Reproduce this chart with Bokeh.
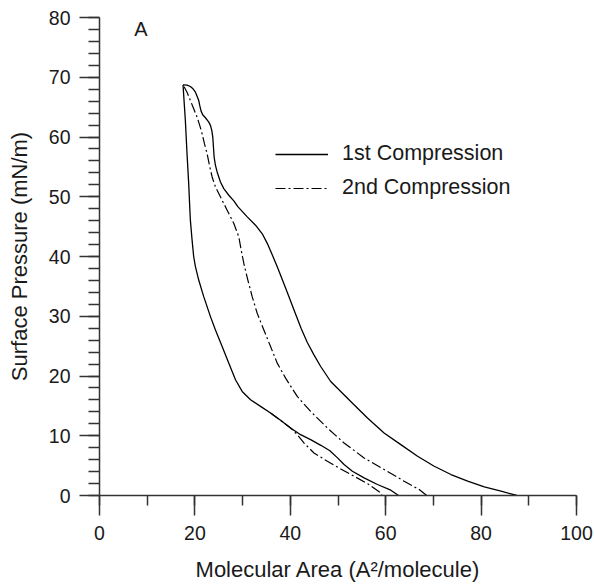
from bokeh.plotting import figure
from bokeh.models import Range1d, SingleIntervalTicker, Legend, LegendItem
from bokeh.core.properties import value
from bokeh.embed import file_html
from bokeh.resources import INLINE

# 1st compression (from large area up to collapse)
comp1_x = [87.5, 84.18, 80.67, 77.18, 73.68, 70.17, 66.68, 63.17, 59.66, 56.18, 53.36, 50.57, 48.47,
           46.37, 44.96, 43.57, 42.3, 41.0, 39.7, 38.4, 37.2, 36.1, 35.17, 34.12, 32.71, 30.97,
           29.0, 28.16, 27.11, 26.06, 25.36, 24.66, 24.31, 24.03, 23.89, 23.75, 23.54, 23.26, 22.91,
           22.21, 21.64, 21.30, 21.01, 20.80, 20.46, 20.11, 19.61, 19.05, 18.35, 17.51]
comp1_y = [0.0, 0.72, 1.45, 2.39, 3.51, 4.89, 6.56, 8.51, 10.47, 12.97, 15.19, 17.41, 19.08,
           21.59, 23.54, 25.6, 27.9, 30.6, 33.3, 36.0, 38.4, 40.5, 42.2, 43.8, 45.24, 46.63,
           48.35, 49.30, 50.25, 51.36, 52.48, 54.15, 55.26, 56.65, 58.32, 59.99, 61.10, 61.94, 62.49,
           63.22, 63.72, 64.33, 65.28, 66.11, 66.83, 67.50, 68.06, 68.45, 68.67, 68.73]
# 1st expansion (from collapse back down)
exp1_x = [17.51, 18.00, 18.35, 18.70, 18.9, 19.05, 19.41, 19.75, 20.11, 20.80, 21.85, 23.26, 24.31,
          25.71, 27.11, 28.51, 29.91, 31.66, 33.76, 35.86, 37.96, 40.06, 42.16, 44.26, 46.4, 48.3,
          49.9, 51.27, 53.02, 55.47, 58.27, 61.07, 62.7]
exp1_y = [68.73, 62.77, 57.21, 52.20, 48.6, 46.08, 42.74, 39.96, 38.29, 36.06, 33.28, 29.94, 27.71,
          24.93, 22.15, 19.37, 17.42, 16.03, 14.91, 13.80, 12.58, 11.30, 10.18, 9.35, 8.4, 7.5,
          6.3, 5.18, 4.06, 2.95, 1.84, 0.89, 0.0]
# 2nd compression
comp2_x = [68.6, 67.02, 63.87, 59.67, 55.47, 51.27, 47.77, 44.26, 41.46, 39.01, 37.26, 35.86, 34.46,
           33.06, 32.01, 31.10, 30.26, 29.70, 29.21, 28.16, 26.76, 25.6, 24.31, 23.61, 23.05, 22.56,
           22.00, 21.51, 21.01, 20.46, 19.75, 19.05, 18.35, 17.51]
comp2_y = [0.0, 1.00, 2.39, 4.34, 6.29, 8.79, 11.30, 14.08, 16.58, 19.64, 22.15, 24.93, 27.71,
           30.50, 33.28, 36.06, 38.84, 41.07, 43.29, 45.52, 47.75, 49.6, 51.64, 53.31, 55.26, 57.21,
           58.88, 60.55, 61.94, 63.33, 64.72, 66.11, 67.50, 68.73]
# 2nd expansion (lower branch, separates from the 1st)
exp2_x = [35.86, 37.96, 40.06, 41.46, 42.86, 44.96, 47.77, 50.57, 53.37, 56.17, 58.97, 59.2]
exp2_y = [13.80, 12.58, 11.30, 10.18, 8.79, 7.12, 5.73, 4.45, 3.23, 2.00, 0.45, 0.0]

legend_labels = ["1st Compression", "2nd Compression"]
panel_label = "A"
x_label = "Molecular Area (A\u00b2/molecule)"
y_label = "Surface Pressure (mN/m)"

FONT = "Liberation Sans"
AX = "#333333"
TXT = "#1a1a1a"

p = figure(width=594, height=584, output_backend="svg", toolbar_location=None,
           x_range=Range1d(0, 100), y_range=Range1d(0, 80),
           min_border_left=99, min_border_right=18, min_border_top=17, min_border_bottom=88)
p.outline_line_color = None
p.xgrid.visible = False
p.ygrid.visible = False
p.background_fill_color = "white"
p.border_fill_color = "white"

p.xaxis.ticker = SingleIntervalTicker(interval=20, num_minor_ticks=2)
p.yaxis.ticker = SingleIntervalTicker(interval=10, num_minor_ticks=5)
for ax in (p.xaxis, p.yaxis):
    ax.axis_line_color = AX
    ax.axis_line_width = 1.5
    ax.major_tick_line_color = AX
    ax.minor_tick_line_color = AX
    ax.major_tick_line_width = 1.5
    ax.minor_tick_line_width = 1.5
    ax.major_tick_in = 0
    ax.minor_tick_in = 0
    ax.major_tick_out = 20
    ax.major_label_text_font = FONT
    ax.major_label_text_font_size = "19.5px"
    ax.major_label_text_color = TXT
    ax.axis_label_text_font = FONT
    ax.axis_label_text_font_size = "22px"
    ax.axis_label_text_font_style = "normal"
    ax.axis_label_text_color = TXT
p.xaxis.minor_tick_out = 10
p.yaxis.minor_tick_out = 11
p.xaxis.major_label_standoff = 10
p.yaxis.major_label_standoff = 9
p.xaxis.axis_label = x_label
p.yaxis.axis_label = y_label
p.xaxis.axis_label_standoff = 14
p.yaxis.axis_label_standoff = 14

r1 = p.line(comp1_x, comp1_y, line_color="black", line_width=1.3)
p.line(exp1_x, exp1_y, line_color="black", line_width=1.3)
r2 = p.line(comp2_x, comp2_y, line_color="black", line_width=1.2, line_dash="10 3 2 3")
p.line(exp2_x, exp2_y, line_color="black", line_width=1.2, line_dash="10 3 2 3")

p.text(x=[8.66], y=[78.1], text=[panel_label], text_font=value(FONT), text_font_size="20px",
       text_align="center", text_baseline="middle", text_color=TXT)

legend = Legend(items=[LegendItem(label=legend_labels[0], renderers=[r1]),
                       LegendItem(label=legend_labels[1], renderers=[r2])],
                location=(176, 295), border_line_color=None, background_fill_alpha=0,
                padding=0, margin=0, spacing=9, glyph_width=53, glyph_height=20,
                label_height=20, label_standoff=14,
                label_text_font=FONT, label_text_font_size="21.5px", label_text_color=TXT)
p.add_layout(legend)

open("out.html", "w").write(file_html(p, INLINE))
